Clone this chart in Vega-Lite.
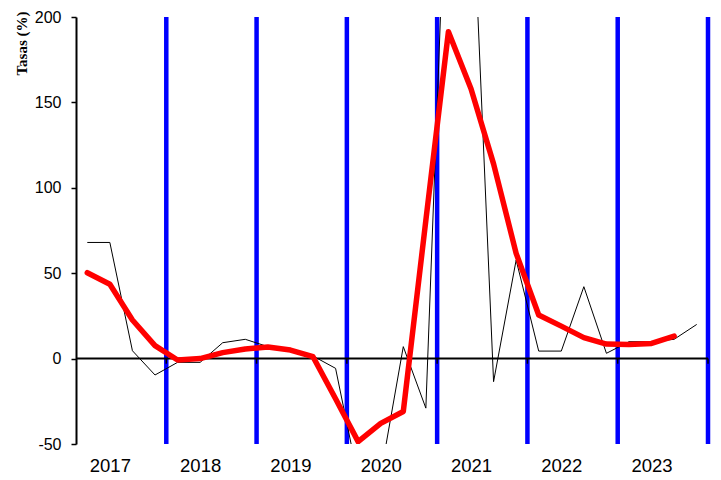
{
  "$schema": "https://vega.github.io/schema/vega-lite/v6.json",
  "width": 632,
  "height": 427,
  "autosize": {"type": "none"},
  "padding": {"left": 76, "top": 17, "right": 13, "bottom": 36},
  "config": {"view": {"stroke": null}, "font": "Liberation Sans"},
  "datasets": {
    "series": [
      {"trimestre": "2017-T1", "pos": 0.5, "trimestral": 68, "suavizada": 50.3},
      {"trimestre": "2017-T2", "pos": 1.5, "trimestral": 68, "suavizada": 43.5},
      {"trimestre": "2017-T3", "pos": 2.5, "trimestral": 4.6, "suavizada": 22.6},
      {"trimestre": "2017-T4", "pos": 3.5, "trimestral": -9.6, "suavizada": 7.6},
      {"trimestre": "2018-T1", "pos": 4.5, "trimestral": -2.2, "suavizada": -0.8},
      {"trimestre": "2018-T2", "pos": 5.5, "trimestral": -2.2, "suavizada": 0},
      {"trimestre": "2018-T3", "pos": 6.5, "trimestral": 9.3, "suavizada": 3.5},
      {"trimestre": "2018-T4", "pos": 7.5, "trimestral": 11.3, "suavizada": 5.6},
      {"trimestre": "2019-T1", "pos": 8.5, "trimestral": 7, "suavizada": 6.8},
      {"trimestre": "2019-T2", "pos": 9.5, "trimestral": 5, "suavizada": 5},
      {"trimestre": "2019-T3", "pos": 10.5, "trimestral": 1.5, "suavizada": 1.1},
      {"trimestre": "2019-T4", "pos": 11.5, "trimestral": -5.7, "suavizada": -23.5},
      {"trimestre": "2020-T1", "pos": 12.5, "trimestral": -70, "suavizada": -48.6},
      {"trimestre": "2020-T2", "pos": 13.5, "trimestral": -68, "suavizada": -37.9},
      {"trimestre": "2020-T3", "pos": 14.5, "trimestral": 7, "suavizada": -31},
      {"trimestre": "2020-T4", "pos": 15.5, "trimestral": -29, "suavizada": 81},
      {"trimestre": "2021-T1", "pos": 16.5, "trimestral": 325, "suavizada": 191.4},
      {"trimestre": "2021-T2", "pos": 17.5, "trimestral": 295, "suavizada": 158},
      {"trimestre": "2021-T3", "pos": 18.5, "trimestral": -13.5, "suavizada": 114},
      {"trimestre": "2021-T4", "pos": 19.5, "trimestral": 57.7, "suavizada": 61.6},
      {"trimestre": "2022-T1", "pos": 20.5, "trimestral": 4.4, "suavizada": 25.5},
      {"trimestre": "2022-T2", "pos": 21.5, "trimestral": 4.4, "suavizada": 19},
      {"trimestre": "2022-T3", "pos": 22.5, "trimestral": 42.1, "suavizada": 12.3},
      {"trimestre": "2022-T4", "pos": 23.5, "trimestral": 3.1, "suavizada": 8.5},
      {"trimestre": "2023-T1", "pos": 24.5, "trimestral": 9.9, "suavizada": 8.3},
      {"trimestre": "2023-T2", "pos": 25.5, "trimestral": 9.9, "suavizada": 8.9},
      {"trimestre": "2023-T3", "pos": 26.5, "trimestral": 11.3, "suavizada": 13.2},
      {"trimestre": "2023-T4", "pos": 27.5, "trimestral": 20, "suavizada": null}
    ],
    "years": [{"b": 4}, {"b": 8}, {"b": 12}, {"b": 16}, {"b": 20}, {"b": 24}, {"b": 28}],
    "zero": [{"y": 0}]
  },
  "layer": [
    {
      "data": {"name": "years"},
      "mark": {"type": "rule", "color": "#0000FF", "strokeWidth": 4.5},
      "encoding": {
        "x": {
          "field": "b",
          "type": "quantitative",
          "scale": {"domain": [0, 28], "nice": false, "zero": false},
          "axis": {
            "values": [1.5, 5.5, 9.5, 13.5, 17.5, 21.5, 25.5],
            "labelExpr": "'' + (2017 + floor(datum.value / 4))",
            "domain": false,
            "ticks": false,
            "grid": false,
            "title": null,
            "labelFontSize": 18.5,
            "labelColor": "black",
            "labelPadding": 12,
            "labelFlush": false,
            "labelOverlap": false
          }
        }
      }
    },
    {
      "data": {"name": "zero"},
      "mark": {"type": "rule", "color": "black", "strokeWidth": 2},
      "encoding": {
        "y": {
          "field": "y",
          "type": "quantitative",
          "scale": {"domain": [-50, 200], "nice": false, "zero": false},
          "axis": {
            "values": [-50, 0, 50, 100, 150, 200],
            "labelExpr": "'' + datum.value",
            "domain": true,
            "domainColor": "black",
            "domainWidth": 2,
            "tickColor": "black",
            "tickSize": 5,
            "tickWidth": 1.5,
            "grid": false,
            "labelFontSize": 16,
            "labelColor": "black",
            "labelPadding": 10,
            "title": "Tasas (%)",
            "titleFont": "Liberation Serif",
            "titleFontWeight": "bold",
            "titleFontSize": 15,
            "titleColor": "black",
            "titleAngle": -90,
            "titleAlign": "right",
            "titleBaseline": "middle",
            "titleX": -55,
            "titleY": -6
          }
        }
      }
    },
    {
      "data": {"name": "years"},
      "mark": {"type": "rule", "color": "black", "strokeWidth": 1.5},
      "encoding": {
        "x": {"field": "b", "type": "quantitative"},
        "y": {"datum": 0, "type": "quantitative"},
        "y2": {"datum": -3}
      }
    },
    {
      "data": {"name": "series"},
      "mark": {"type": "line", "color": "black", "strokeWidth": 1, "clip": true},
      "encoding": {
        "x": {"field": "pos", "type": "quantitative"},
        "y": {"field": "trimestral", "type": "quantitative"}
      }
    },
    {
      "data": {"name": "series"},
      "mark": {"type": "line", "color": "#FF0000", "strokeWidth": 5.5, "strokeCap": "round", "strokeJoin": "round", "clip": true},
      "encoding": {
        "x": {"field": "pos", "type": "quantitative"},
        "y": {"field": "suavizada", "type": "quantitative"}
      }
    }
  ]
}
